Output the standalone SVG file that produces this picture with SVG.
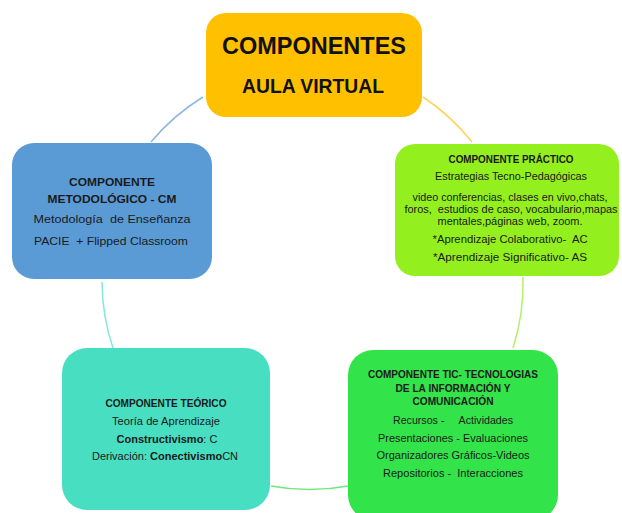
<svg xmlns="http://www.w3.org/2000/svg" width="622" height="513" viewBox="0 0 622 513">
<style>
text{font-family:"Liberation Sans",Arial,sans-serif;fill:#1a1a1a;text-anchor:middle;white-space:pre}
.t{font-size:11px}
.b{font-weight:bold}
.h{font-weight:bold;fill:#111}
.arc{fill:none;stroke-width:1.5}
</style>
<rect width="622" height="513" fill="#ffffff"/>
<g id="connectors">
<path class="arc" d="M203,97 A211,211 0 0 0 151,142" stroke="#8DB6E2"/>
<path class="arc" d="M423,97 A211,211 0 0 1 472,142" stroke="#FFD25E"/>
<path class="arc" d="M523,277 A211,211 0 0 1 513,348" stroke="#B4F068"/>
<path class="arc" d="M348,486 A211,211 0 0 1 271,486" stroke="#70E880"/>
<path class="arc" d="M113,348 A211,211 0 0 1 102,282" stroke="#80EAD5"/>
</g>
<g id="node-top">
<rect x="206" y="13" width="216" height="104" rx="20" fill="#FFC000"/>
<text class="h" x="314" y="54" font-size="23.5" textLength="184" lengthAdjust="spacingAndGlyphs">COMPONENTES</text>
<text class="h" x="313" y="93" font-size="19.5" textLength="142" lengthAdjust="spacingAndGlyphs">AULA VIRTUAL</text>
</g>
<g id="node-practico">
<rect x="395" y="144" width="224" height="132" rx="20" fill="#94EF1E"/>
<text class="t b" x="511" y="163" textLength="125" lengthAdjust="spacingAndGlyphs">COMPONENTE PRÁCTICO</text>
<text class="t" x="511" y="180" textLength="152" lengthAdjust="spacingAndGlyphs">Estrategias Tecno-Pedagógicas</text>
<text class="t" x="510" y="201" textLength="195" lengthAdjust="spacingAndGlyphs">video conferencias, clases en vivo,chats,</text>
<text class="t" x="511" y="213" textLength="213" lengthAdjust="spacingAndGlyphs">foros,  estudios de caso, vocabulario,mapas</text>
<text class="t" x="510" y="225" textLength="145" lengthAdjust="spacingAndGlyphs">mentales,páginas web, zoom.</text>
<text class="t" x="510" y="243" textLength="155" lengthAdjust="spacingAndGlyphs">*Aprendizaje Colaborativo-  AC</text>
<text class="t" x="510" y="261" textLength="154" lengthAdjust="spacingAndGlyphs">*Aprendizaje Significativo- AS</text>
</g>
<g id="node-metodologico">
<rect x="12" y="143" width="200" height="136" rx="22" fill="#5B9BD5"/>
<text class="t b" x="112" y="186" textLength="86" lengthAdjust="spacingAndGlyphs">COMPONENTE</text>
<text class="t b" x="112" y="203" textLength="129" lengthAdjust="spacingAndGlyphs">METODOLÓGICO - CM</text>
<text class="t" x="112" y="223" font-size="11.5" textLength="157" lengthAdjust="spacingAndGlyphs">Metodología  de Enseñanza</text>
<text class="t" x="111" y="245" font-size="11.5" textLength="154" lengthAdjust="spacingAndGlyphs">PACIE  + Flipped Classroom</text>
</g>
<g id="node-teorico">
<rect x="62" y="348" width="208" height="162" rx="25" fill="#48DEC2"/>
<text class="t b" x="166" y="407" textLength="121" lengthAdjust="spacingAndGlyphs">COMPONENTE TEÓRICO</text>
<text class="t" x="166" y="425" textLength="108" lengthAdjust="spacingAndGlyphs">Teoría de Aprendizaje</text>
<text class="t" x="167" y="443" font-size="10.5"><tspan class="b">Constructivismo</tspan>: C</text>
<text class="t" x="165" y="460" font-size="10.8">Derivación: <tspan class="b">Conectivismo</tspan>CN</text>
</g>
<g id="node-tic">
<rect x="348" y="350" width="210" height="170" rx="25" fill="#33E34A"/>
<text class="t b" x="453" y="378" textLength="170" lengthAdjust="spacingAndGlyphs">COMPONENTE TIC- TECNOLOGIAS</text>
<text class="t b" x="453" y="392" textLength="115" lengthAdjust="spacingAndGlyphs">DE LA INFORMACIÓN Y</text>
<text class="t b" x="453" y="405" textLength="81" lengthAdjust="spacingAndGlyphs">COMUNICACIÓN</text>
<text class="t" x="453" y="424" textLength="120" lengthAdjust="spacingAndGlyphs">Recursos -     Actividades</text>
<text class="t" x="453" y="442" textLength="150" lengthAdjust="spacingAndGlyphs">Presentaciones - Evaluaciones</text>
<text class="t" x="453" y="459" textLength="153" lengthAdjust="spacingAndGlyphs">Organizadores Gráficos-Videos</text>
<text class="t" x="453" y="477" textLength="140" lengthAdjust="spacingAndGlyphs">Repositorios -  Interacciones</text>
</g>
</svg>
